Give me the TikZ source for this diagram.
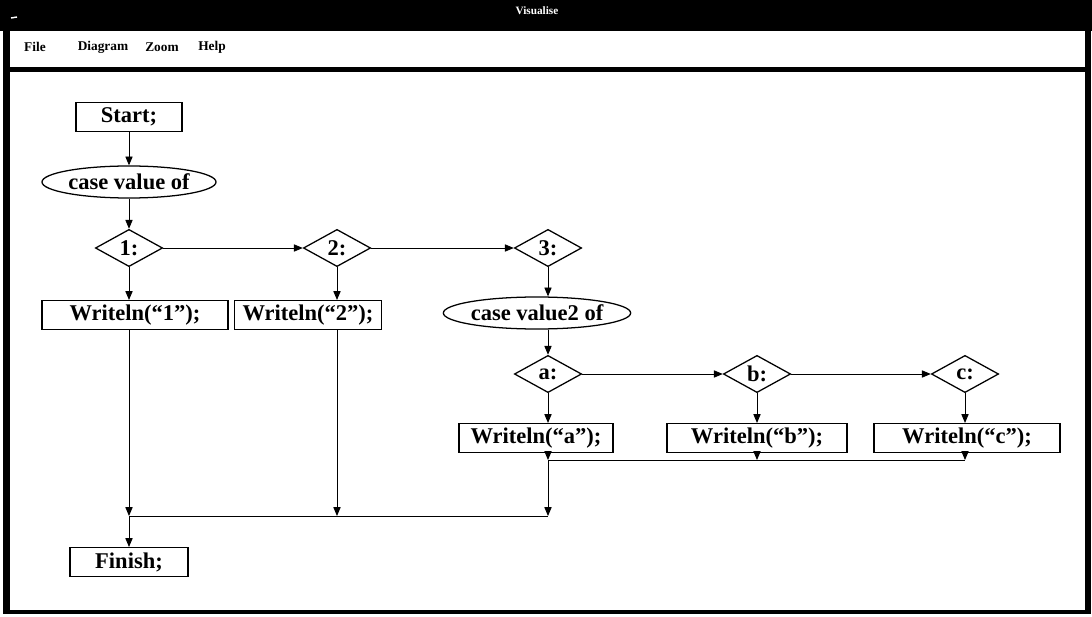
\documentclass[tikz,border=0pt]{standalone}
\usepackage{fontspec}
\setmainfont{Liberation Serif}
\usetikzlibrary{arrows.meta,positioning,shapes.geometric}

\begin{document}
\begin{tikzpicture}[
    x=0.025cm,
    y=-0.025cm,
    font=\fontsize{16}{18}\selectfont\bfseries,
    statement/.style={draw=black,line width=0.9pt,minimum height=0.72cm,inner xsep=6pt,inner ysep=2pt},
    casehead/.style={ellipse,draw=black,line width=0.9pt,minimum height=0.8cm,inner sep=0pt},
    choice/.style={diamond,draw=black,line width=0.9pt,aspect=1.8,minimum width=1.68cm,minimum height=0.93cm,inner sep=0pt},
    flow/.style={-{Triangle[length=2.2mm,width=1.8mm]},draw=black,line width=0.6pt},
    collector/.style={draw=black,line width=0.6pt},
    menuitem/.style={font=\fontsize{9.5}{10}\selectfont\bfseries},
    frame/.style={fill=black}
  ]
    \useasboundingbox (0,0) rectangle (1092,617);

    % window
    \fill[frame] (0,0) rectangle (1092,31);
    \fill[frame] (3,0) rectangle (10,614);
    \fill[frame] (1085,0) rectangle (1091,614);
    \fill[frame] (10,67) rectangle (1085,72);
    \fill[frame] (3,610) rectangle (1091,614);
    \draw[white,line width=1pt] (11,18) -- (17,17);
    \node[font=\fontsize{8}{9}\selectfont\bfseries,text=white] (title) at (537,11) {Visualise};
    \foreach \name/\x in {File/35,Diagram/103,Zoom/162,Help/212} {
      \node[menuitem] (menu\name) at (\x,47) {\name};
    }

    % outer case
    \node[statement,minimum width=2.65cm] (start) at (129,117) {Start;};
    \node[casehead,minimum width=4.35cm] (case1) at (129,182) {case value of};
    \node[choice] (d1) at (129,248) {1:};
    \node[choice] (d2) at (337,248) {2:};
    \node[choice] (d3) at (548,248) {3:};
    \node[statement,minimum width=4.65cm] (w1) at (135,315) {Writeln(``1'');};
    \node[statement,minimum width=3.2cm] (w2) at (308,315) {Writeln(``2'');};

    % inner case
    \node[casehead,minimum width=3.95cm] (case2) at (537,313) {case value2 of};
    \node[choice] (da) at (548,374) {a:};
    \node[choice] (db) at (757,374) {b:};
    \node[choice] (dc) at (965,374) {c:};
    \node[statement,minimum width=3.85cm] (wa) at (536,438) {Writeln(``a'');};
    \node[statement,minimum width=4.5cm] (wb) at (757,438) {Writeln(``b'');};
    \node[statement,minimum width=4.65cm] (wc) at (967,438) {Writeln(``c'');};

    \node[statement,minimum width=2.95cm] (finish) at (129,562) {Finish;};

    \coordinate (kC) at (548,460);
    \coordinate (kD) at (757,460);
    \coordinate (kE) at (965,460);
    \coordinate (jA) at (129,516);
    \coordinate (jB) at (337,516);
    \coordinate (jC) at (548,516);

    \draw[flow] (start) -- (case1);
    \draw[flow] (case1) -- (d1);
    \draw[flow] (d1) -- (d2);
    \draw[flow] (d2) -- (d3);
    \draw[flow] (d1.south) -- (d1.south |- w1.north);
    \draw[flow] (d2.south) -- (d2.south |- w2.north);
    \draw[flow] (d3.south) -- (d3.south |- case2.north);
    \draw[flow] (d3.south |- case2.south) -- (da.north);
    \draw[flow] (da) -- (db);
    \draw[flow] (db) -- (dc);
    \draw[flow] (da.south) -- (da.south |- wa.north);
    \draw[flow] (db.south) -- (db.south |- wb.north);
    \draw[flow] (dc.south) -- (dc.south |- wc.north);

    \draw[flow] (wa.south -| kC) -- (kC);
    \draw[flow] (wb.south -| kD) -- (kD);
    \draw[flow] (wc.south -| kE) -- (kE);
    \draw[collector] (kC) -- (kE);
    \draw[flow] (kC) -- (jC);
    \draw[flow] (w1.south -| jA) -- (jA);
    \draw[flow] (w2.south -| jB) -- (jB);
    \draw[collector] (jA) -- (jC);
    \draw[flow] (jA) -- (finish);
  \end{tikzpicture}
\end{document}
